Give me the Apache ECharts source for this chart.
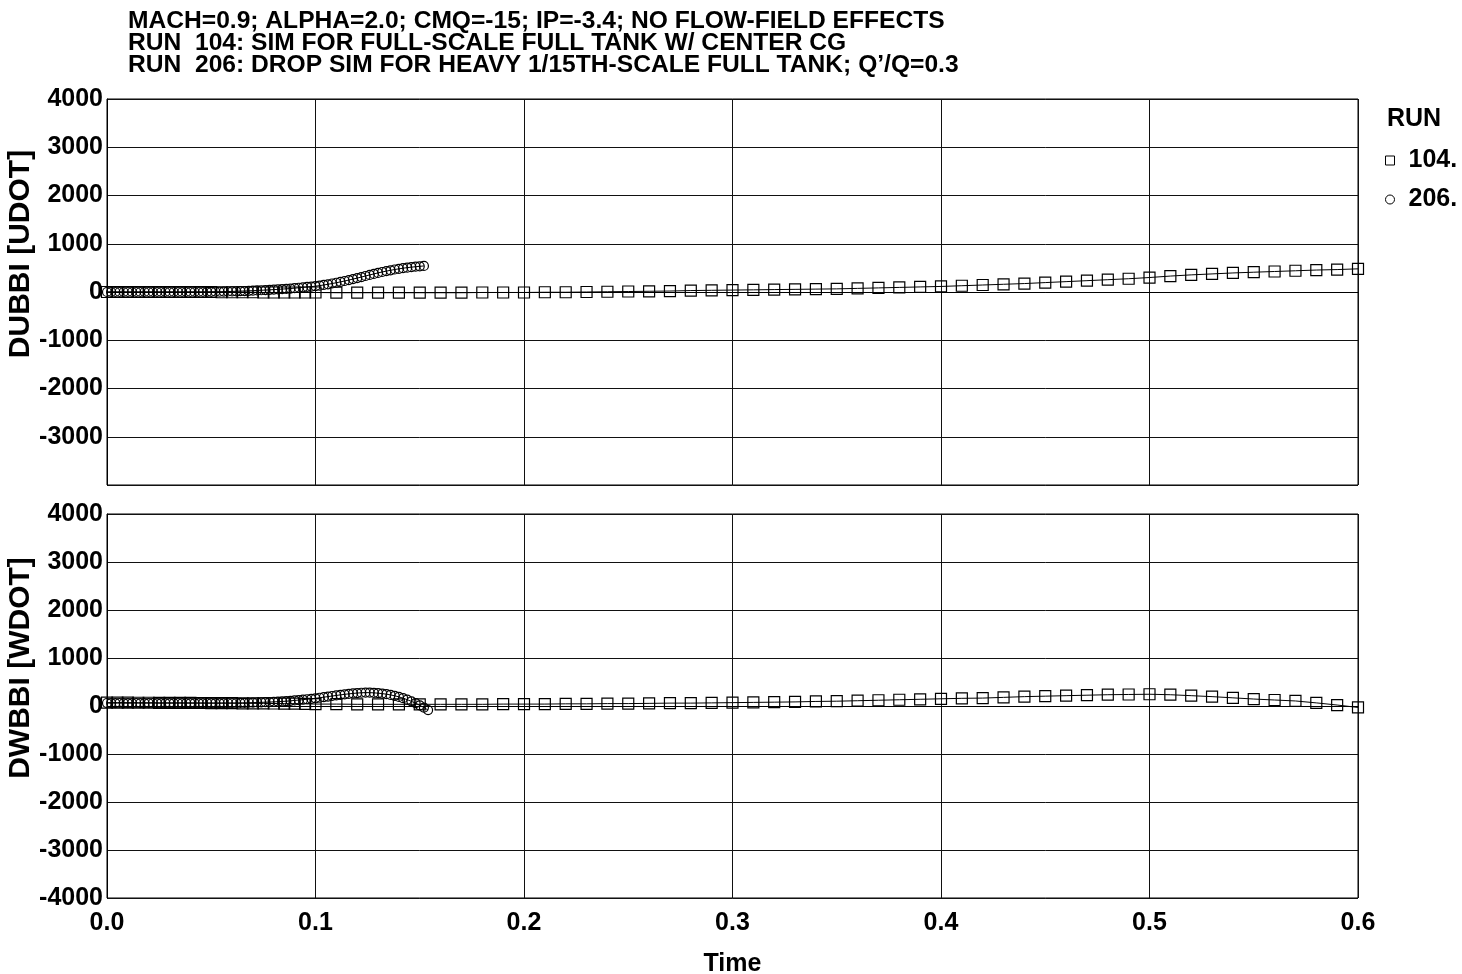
<!DOCTYPE html>
<html><head><meta charset="utf-8">
<script src="https://cdn.jsdelivr.net/npm/echarts@6/dist/echarts.min.js"></script>
<style>html,body{margin:0;padding:0;background:#fff}#c{width:1462px;height:974px}</style>
</head><body><div id="c"></div>
<script>
const titleLines = [
  "MACH=0.9; ALPHA=2.0; CMQ=-15; IP=-3.4; NO FLOW-FIELD EFFECTS",
  "RUN  104: SIM FOR FULL-SCALE FULL TANK W/ CENTER CG",
  "RUN  206: DROP SIM FOR HEAVY 1/15TH-SCALE FULL TANK; Q\u2019/Q=0.3"
];
const runNames = ["104.", "206."];
const yTopName = "DUBBI [UDOT]";
const yBotName = "DWBBI [WDOT]";
const xName = "Time";

const t104 = [0,0.005,0.01,0.015,0.02,0.025,0.03,0.035,0.04,0.045,0.05,0.055,0.06,0.065,0.07,0.075,0.08,0.085,0.09,0.095,
  0.10,0.11,0.12,0.13,0.14,0.15,0.16,0.17,0.18,0.19,0.20,0.21,0.22,0.23,0.24,0.25,0.26,0.27,0.28,0.29,
  0.30,0.31,0.32,0.33,0.34,0.35,0.36,0.37,0.38,0.39,0.40,0.41,0.42,0.43,0.44,0.45,0.46,0.47,0.48,0.49,
  0.50,0.51,0.52,0.53,0.54,0.55,0.56,0.57,0.58,0.59,0.60];
const udot104 = [0,0,0,0,0,0,0,0,0,0, 0,-5,-5,-5,-5,-10,-10,-10,-10,-10,
  -10,-15,-15,-15,-15,-15,-15,-15,-10,-10, -10,-5,-5,0,5,10,15,20,30,35,
  40,45,50,55,60,65,75,85,95,105, 115,130,145,160,175,195,215,235,255,275,
  300,330,355,375,395,410,425,440,455,465, 480];
const wdot104 = [70,70,70,68,68,66,65,65,64,62, 60,60,58,56,55,54,52,50,48,45,
  40,40,35,35,35,35,35,35,35,40, 40,40,45,45,50,50,55,60,60,65,
  70,75,80,85,95,100,110,120,130,140, 150,160,165,180,195,205,215,225,235,240,
  245,235,215,195,170,145,125,105,65,20, -30];

const t206 = [0,0.002,0.004,0.006,0.008,0.010,0.012,0.014,0.016,0.018,0.020,0.022,0.024,0.026,0.028,0.030,
  0.032,0.034,0.036,0.038,0.040,0.042,0.044,0.046,0.048,0.050,0.052,0.054,0.056,0.058,0.060,0.062,0.064,
  0.066,0.068,0.070,0.072,0.074,0.076,0.078,0.080,0.082,0.084,0.086,0.088,0.090,0.092,0.094,0.096,0.098,
  0.100,0.102,0.104,0.106,0.108,0.110,0.112,0.114,0.116,0.118,0.120,0.122,0.124,0.126,0.128,0.130,0.132,
  0.134,0.136,0.138,0.140,0.142,0.144,0.146,0.148,0.150,0.152,0.154];
const udot206 = [0,0,0,0,0,0,0,0,0,0, 0,0,0,0,0,0,0,0,0,0, 0,0,0,0,2,3,
  5,5,8,10,12,15,18,20,24,28, 32,36,40,45,50,55,60,66,72,80, 88,96,105,112,
  120,132,146,160,176,192,210,228,248,268, 288,310,332,354,375,396,415,433,450,466, 480,493,505,515,524,532,540];
const wdot206 = [62,60,61,63,60,58,60,62,61,59, 60,62,60,58,61,60,59,62,60,61, 60,59,61,60,62,60,61,60,61,62, 62,
  63,64,66,68,70,73,76,79,82,86,90,95,100,108,116,124,132,141,150,
  160,172,184,196,208,220,232,243,253,262, 270,276,279,278,274,267,258,246,231,212, 190,163,132,97,58,15,-32,-85];

const xTicks = {min:0, max:0.6, interval:0.1};
const yTicks = {min:-4000, max:4000, interval:1000};

function pairs(t, v){ return v.map((y,i)=>[t[i], y]); }

const FONT = "'Liberation Sans', Arial, sans-serif";
const txt = {color:'#000', fontFamily:FONT, fontWeight:'bold', fontSize:25};

function xAxis(gi, showLabels){
  return {
    type:'value', gridIndex:gi, min:xTicks.min, max:xTicks.max, interval:xTicks.interval,
    axisLine:{show:true, lineStyle:{color:'#000', width:1}},
    axisTick:{show:false},
    splitLine:{show:true, lineStyle:{color:'#111', width:1}},
    axisLabel:{show:showLabels, ...txt, margin:13, formatter:v=>v.toFixed(1)},
    name: showLabels ? xName : '', nameLocation:'middle', nameGap:54, nameMoveOverlap:false,
    nameTextStyle:{...txt}
  };
}
function yAxis(gi, name, hideMin){
  return {
    type:'value', gridIndex:gi, min:yTicks.min, max:yTicks.max, interval:yTicks.interval,
    axisLine:{show:true, lineStyle:{color:'#000', width:1}},
    axisTick:{show:false},
    splitLine:{show:true, lineStyle:{color:'#111', width:1}},
    axisLabel:{...txt, margin:4, formatter:v=> (hideMin && v===yTicks.min) ? '' : String(v)},
    name:name, nameLocation:'middle', nameGap:71, nameRotate:90, nameMoveOverlap:false,
    nameTextStyle:{...txt, fontSize:30, padding:[0,0,0,76]}
  };
}
function ser(name, sym, size, xi, data){
  return {
    name:name, type:'line', xAxisIndex:xi, yAxisIndex:xi, data:data,
    symbol:sym, symbolSize:size, showAllSymbol:true, animation:false,
    lineStyle:{color:'#000', width:1},
    itemStyle:{color:'rgba(255,255,255,0)', borderColor:'#000', borderWidth:1.2},
    emphasis:{disabled:true}
  };
}

const chart = echarts.init(document.getElementById('c'), null, {renderer:'canvas'});
chart.setOption({
  backgroundColor:'#fff',
  animation:false,
  title:[
    {text:titleLines.join('\n'), left:128, top:10, padding:0,
     textStyle:{...txt, fontSize:24.6, lineHeight:22}},
    {text:'RUN', left:1387, top:107, padding:0, textStyle:{...txt}}
  ],
  legend:{
    orient:'vertical', left:1380, top:143, itemGap:14, itemWidth:9, itemHeight:9,
    textStyle:{...txt, padding:[0,0,0,9]}, itemStyle:{color:'rgba(255,255,255,0)', borderColor:'#000', borderWidth:1},
    data:[{name:runNames[0], icon:'rect'},{name:runNames[1], icon:'circle'}]
  },
  grid:[
    {left:107, top:99, right:104, height:386, show:true, borderColor:'#000', borderWidth:1, outerBoundsMode:'none', containLabel:false},
    {left:107, top:514, right:104, height:384, show:true, borderColor:'#000', borderWidth:1, outerBoundsMode:'none', containLabel:false}
  ],
  xAxis:[xAxis(0,false), xAxis(1,true)],
  yAxis:[yAxis(0,yTopName,true), yAxis(1,yBotName,false)],
  series:[
    ser(runNames[0],'rect',11,0,pairs(t104,udot104)),
    ser(runNames[1],'circle',9,0,pairs(t206,udot206)),
    ser(runNames[0],'rect',11,1,pairs(t104,wdot104)),
    ser(runNames[1],'circle',9,1,pairs(t206,wdot206))
  ]
});
</script></body></html>
